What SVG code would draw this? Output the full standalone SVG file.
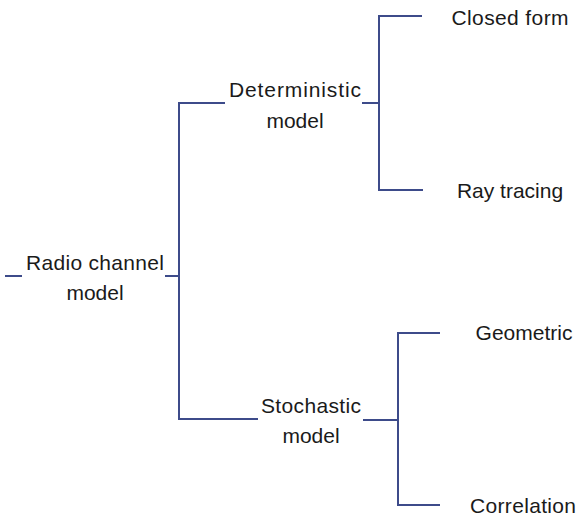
<svg xmlns="http://www.w3.org/2000/svg" width="581" height="518" viewBox="0 0 581 518">
  <style>
    .bg { fill: #ffffff; }
    .link { fill: none; stroke: #3d4b8a; stroke-width: 2; }
    .lbl { font-family: "Liberation Sans", Arial, sans-serif; font-size: 21px; fill: #1a1a1a; text-anchor: middle; }
  </style>
  <rect class="bg" x="0" y="0" width="581" height="518"/>

  <g id="connectors">
    <!-- root stubs -->
    <path class="link" d="M5 276 H22"/>
    <path class="link" d="M165 276 H179"/>
    <!-- root branch -->
    <path class="link" d="M225 103 H179 V419 H258"/>
    <!-- deterministic branch -->
    <path class="link" d="M362 103 H379"/>
    <path class="link" d="M422 16 H379 V190 H423"/>
    <!-- stochastic branch -->
    <path class="link" d="M363 420 H398"/>
    <path class="link" d="M440 333 H398 V505 H440"/>
  </g>

  <g id="radio-channel-model">
    <text class="lbl" x="95" y="270" textLength="138" lengthAdjust="spacing">Radio channel</text>
    <text class="lbl" x="95" y="300">model</text>
  </g>
  <g id="deterministic-model">
    <text class="lbl" x="295" y="97" textLength="132" lengthAdjust="spacing">Deterministic</text>
    <text class="lbl" x="295" y="128">model</text>
  </g>
  <g id="closed-form">
    <text class="lbl" x="510" y="25" textLength="117" lengthAdjust="spacing">Closed form</text>
  </g>
  <g id="ray-tracing">
    <text class="lbl" x="510" y="198">Ray tracing</text>
  </g>
  <g id="stochastic-model">
    <text class="lbl" x="311" y="413" textLength="100" lengthAdjust="spacing">Stochastic</text>
    <text class="lbl" x="311" y="443">model</text>
  </g>
  <g id="geometric">
    <text class="lbl" x="524" y="340">Geometric</text>
  </g>
  <g id="correlation">
    <text class="lbl" x="523" y="513" textLength="106" lengthAdjust="spacing">Correlation</text>
  </g>
</svg>
